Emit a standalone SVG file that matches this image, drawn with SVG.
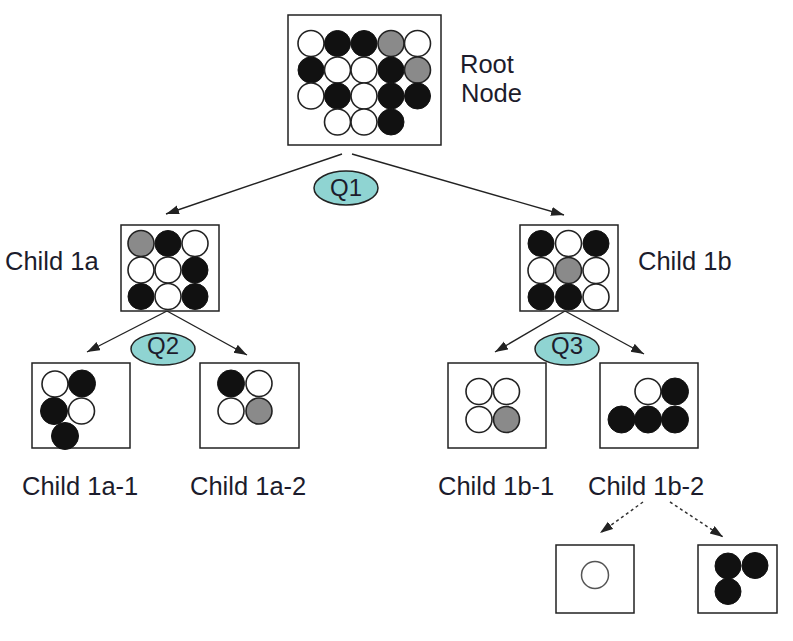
<svg xmlns="http://www.w3.org/2000/svg" width="793" height="641" viewBox="0 0 793 641">
<style>
.box{fill:#fff;stroke:#222;stroke-width:1.5}
.w{fill:#fff;stroke:#222;stroke-width:1.6}
.b{fill:#111;stroke:#111;stroke-width:1}
.g{fill:#8a8a8a;stroke:#222;stroke-width:1.6}
.lbl{font-family:"Liberation Sans",Arial,sans-serif;font-size:25.5px;fill:#1c1c2c}
.q{fill:#8fd4d2;stroke:#222;stroke-width:1.5}
.qt{font-family:"Liberation Sans",Arial,sans-serif;font-size:24px;fill:#1c1c2c;text-anchor:middle}
.ln{stroke:#222;stroke-width:1.4;fill:none;marker-end:url(#ah)}
.dl{stroke:#333;stroke-width:1.5;fill:none;stroke-dasharray:3,3;marker-end:url(#ah)}
</style>
<defs>
<marker id="ah" markerUnits="userSpaceOnUse" markerWidth="14" markerHeight="10" refX="13" refY="4.5" orient="auto">
<path d="M0,0 L13,4.5 L0,9 z" fill="#222"/>
</marker>
</defs>
<rect width="793" height="641" fill="#fff"/>

<g id="connectors">
<line class="ln" x1="342" y1="154" x2="166" y2="214"/>
<line class="ln" x1="352" y1="154" x2="564" y2="215"/>
<line class="ln" x1="167" y1="311" x2="87" y2="352"/>
<line class="ln" x1="167" y1="311" x2="247" y2="355"/>
<line class="ln" x1="565" y1="311" x2="495" y2="352"/>
<line class="ln" x1="565" y1="311" x2="644" y2="354"/>
<line class="dl" x1="643" y1="502" x2="600" y2="533"/>
<line class="dl" x1="670" y1="502" x2="723" y2="537"/>
</g>

<g id="q1"><ellipse class="q" cx="346" cy="188" rx="32" ry="17"/><text class="qt" x="346" y="196">Q1</text></g>
<g id="q2"><ellipse class="q" cx="163" cy="349" rx="32" ry="16"/><text class="qt" x="163" y="354">Q2</text></g>
<g id="q3"><ellipse class="q" cx="567" cy="349" rx="32" ry="16"/><text class="qt" x="567" y="354">Q3</text></g>

<g id="root">
<rect class="box" x="288" y="15" width="153" height="130"/>
<circle class="w" cx="311" cy="43.5" r="13"/>
<circle class="b" cx="337.5" cy="43.5" r="13"/>
<circle class="b" cx="364" cy="43.5" r="13"/>
<circle class="g" cx="391" cy="43.5" r="13"/>
<circle class="w" cx="417.5" cy="43.5" r="13"/>
<circle class="b" cx="311" cy="70" r="13"/>
<circle class="w" cx="337.5" cy="70" r="13"/>
<circle class="w" cx="364" cy="70" r="13"/>
<circle class="b" cx="391" cy="70" r="13"/>
<circle class="g" cx="417.5" cy="70" r="13"/>
<circle class="w" cx="311" cy="96" r="13"/>
<circle class="b" cx="337.5" cy="96" r="13"/>
<circle class="w" cx="364" cy="96" r="13"/>
<circle class="b" cx="391" cy="96" r="13"/>
<circle class="b" cx="417.5" cy="96" r="13"/>
<circle class="w" cx="337.5" cy="122" r="13"/>
<circle class="w" cx="364" cy="122" r="13"/>
<circle class="b" cx="391" cy="122" r="13"/>
<text class="lbl" x="460" y="73">Root</text>
<text class="lbl" x="461" y="102">Node</text>
</g>

<g id="child1a">
<rect class="box" x="121" y="225" width="98" height="86"/>
<circle class="g" cx="141" cy="243.5" r="13"/>
<circle class="b" cx="168" cy="243.5" r="13"/>
<circle class="w" cx="195" cy="243.5" r="13"/>
<circle class="w" cx="141" cy="270" r="13"/>
<circle class="w" cx="168" cy="270" r="13"/>
<circle class="b" cx="195" cy="270" r="13"/>
<circle class="b" cx="141" cy="296.5" r="13"/>
<circle class="w" cx="168" cy="296.5" r="13"/>
<circle class="b" cx="195" cy="296.5" r="13"/>
<text class="lbl" x="5" y="270">Child 1a</text>
</g>

<g id="child1b">
<rect class="box" x="520" y="225" width="98" height="86"/>
<circle class="b" cx="541" cy="243.5" r="13"/>
<circle class="w" cx="568.5" cy="243.5" r="13"/>
<circle class="b" cx="596" cy="243.5" r="13"/>
<circle class="w" cx="541" cy="270.5" r="13"/>
<circle class="g" cx="568.5" cy="270.5" r="13"/>
<circle class="w" cx="596" cy="270.5" r="13"/>
<circle class="b" cx="541" cy="297" r="13"/>
<circle class="b" cx="568.5" cy="297" r="13"/>
<circle class="w" cx="596" cy="297" r="13"/>
<text class="lbl" x="638" y="270">Child 1b</text>
</g>

<g id="child1a-1">
<rect class="box" x="32" y="363" width="98" height="85"/>
<circle class="w" cx="55" cy="384" r="13"/>
<circle class="b" cx="82" cy="383.5" r="13.5"/>
<circle class="b" cx="54" cy="411" r="13.5"/>
<circle class="w" cx="81.5" cy="411" r="13"/>
<circle class="b" cx="65" cy="436" r="13.5"/>
<text class="lbl" x="22" y="495">Child 1a-1</text>
</g>

<g id="child1a-2">
<rect class="box" x="200" y="363" width="99" height="85"/>
<circle class="b" cx="231" cy="383.5" r="13.5"/>
<circle class="w" cx="259" cy="383.5" r="13"/>
<circle class="w" cx="231" cy="411" r="13"/>
<circle class="g" cx="259" cy="411" r="13"/>
<text class="lbl" x="190" y="495">Child 1a-2</text>
</g>

<g id="child1b-1">
<rect class="box" x="448" y="363" width="98" height="85"/>
<circle class="w" cx="479" cy="391.5" r="13"/>
<circle class="w" cx="506.5" cy="391.5" r="13"/>
<circle class="w" cx="479" cy="419.5" r="13"/>
<circle class="g" cx="506.5" cy="419.5" r="13"/>
<text class="lbl" x="438" y="495">Child 1b-1</text>
</g>

<g id="child1b-2">
<rect class="box" x="600" y="363" width="98" height="85"/>
<circle class="w" cx="648" cy="391.5" r="13"/>
<circle class="b" cx="675" cy="391.5" r="13.5"/>
<circle class="b" cx="621.5" cy="419.5" r="13.5"/>
<circle class="b" cx="648" cy="419.5" r="13.5"/>
<circle class="b" cx="675" cy="419.5" r="13.5"/>
<text class="lbl" x="588" y="495">Child 1b-2</text>
</g>

<g id="child1b-2-1">
<rect class="box" x="556" y="545" width="78" height="68"/>
<circle cx="595" cy="575" r="13.5" fill="#fff" stroke="#555" stroke-width="1.5"/>
</g>

<g id="child1b-2-2">
<rect class="box" x="698" y="545" width="79" height="68"/>
<circle class="b" cx="728" cy="566" r="13"/>
<circle class="b" cx="755" cy="565.5" r="13"/>
<circle class="b" cx="728" cy="591.5" r="13"/>
</g>
</svg>
